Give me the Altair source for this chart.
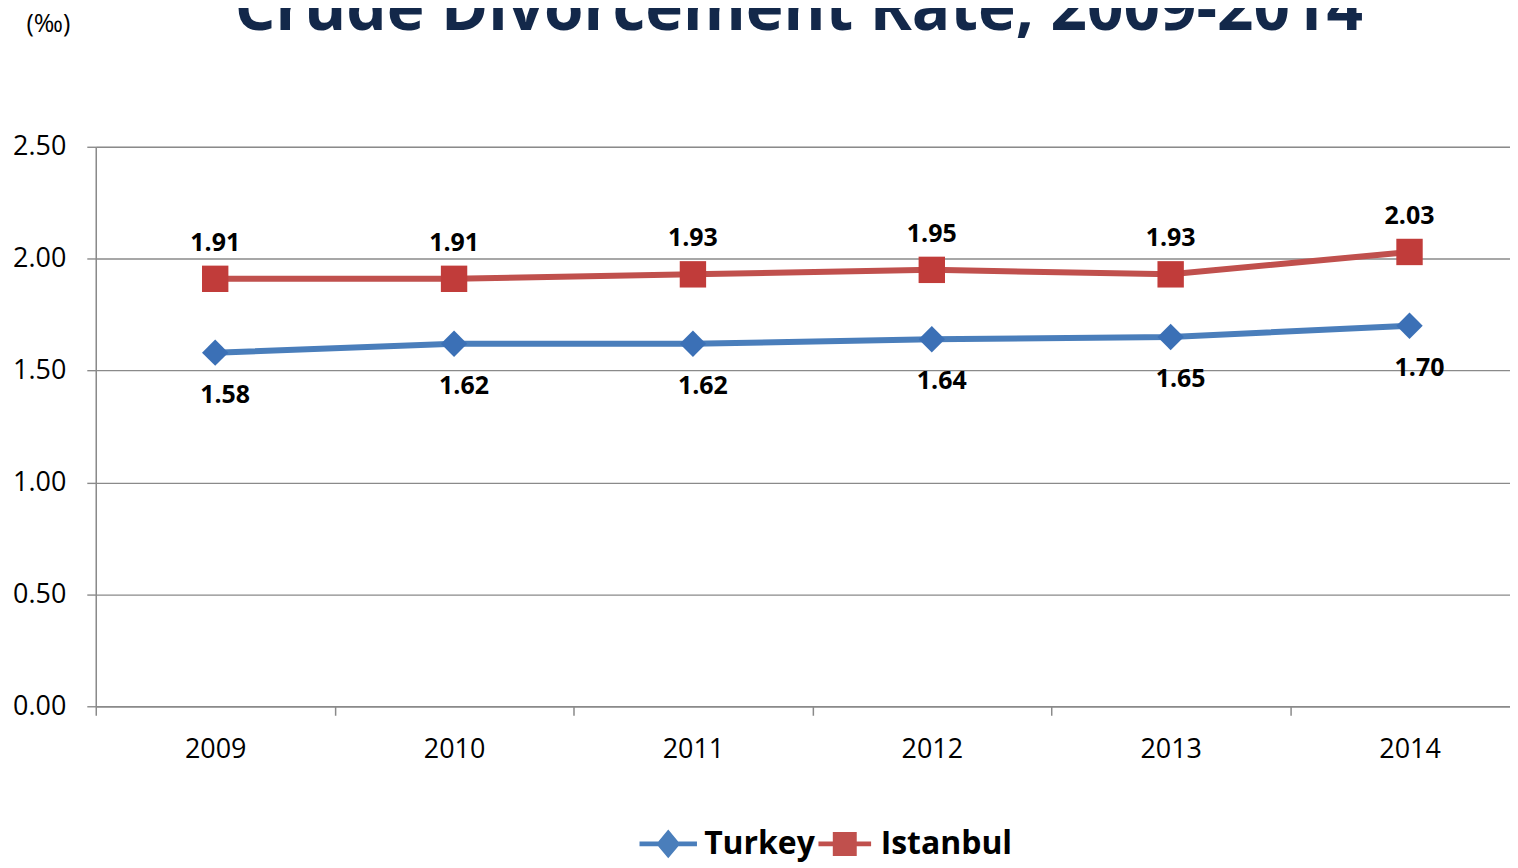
import altair as alt
import pandas as pd

title_text = "Crude Divorcement Rate, 2009-2014"
years = ["2009", "2010", "2011", "2012", "2013", "2014"]
turkey = [1.58, 1.62, 1.62, 1.64, 1.65, 1.70]
istanbul = [1.91, 1.91, 1.93, 1.95, 1.93, 2.03]
series_names = ["Turkey", "Istanbul"]
y_ticks = [0.0, 0.5, 1.0, 1.5, 2.0, 2.5]

rows = []
for name, vals in zip(series_names, [turkey, istanbul]):
    for yr, v in zip(years, vals):
        rows.append({"year": yr, "value": v, "series": name, "label": f"{v:.2f}"})
df = pd.DataFrame(rows)

line_colors = ["#4a7ebb", "#c0504d"]
marker_colors = ["#3b70b6", "#c13c3a"]
FONT = "Open Sans"
GRID = "#8a8a8a"

color_scale = alt.Scale(domain=series_names, range=line_colors)

x_enc = alt.X(
    "year:O",
    scale=alt.Scale(type="band", range=[0, 1437], paddingInner=0, paddingOuter=0),
    axis=alt.Axis(
        title=None, labelAngle=0, tickBand="extent", grid=False,
        domainColor=GRID, domainWidth=1.5, tickColor=GRID, tickWidth=1.5, tickSize=9,
        labelFont=FONT, labelFontSize=27, labelColor="black", labelPadding=21,
    ),
)
y_enc = alt.Y(
    "value:Q",
    scale=alt.Scale(domain=[0, 2.5], nice=False, zero=True),
    axis=alt.Axis(
        values=y_ticks, format=".2f", grid=True, gridColor=GRID, gridWidth=1.4,
        domainColor=GRID, domainWidth=1.5, tickColor=GRID, tickWidth=1.4, tickSize=9,
        labelFont=FONT, labelFontSize=27, labelColor="black", labelPadding=21,
        title="(‰)", titleAngle=0, titleX=-48, titleY=-124, titleAlign="center",
        titleBaseline="middle", titleFont=FONT, titleFontSize=25, titleFontWeight="normal",
        titleColor="black",
    ),
)

base = alt.Chart(df)
is_t = alt.datum.series == "Turkey"
is_i = alt.datum.series == "Istanbul"

line_t = base.transform_filter(is_t).mark_line(strokeWidth=6, color=line_colors[0]).encode(x=x_enc, y=y_enc)
line_i = base.transform_filter(is_i).mark_line(strokeWidth=6, color=line_colors[1]).encode(x=x_enc, y=y_enc)

markers_t = base.transform_filter(is_t).mark_point(
    shape="diamond", filled=True, size=700, opacity=1, color=marker_colors[0]
).encode(x=x_enc, y=y_enc)

markers_i = base.transform_filter(is_i).mark_point(
    shape="square", filled=True, size=700, opacity=1, color=marker_colors[1]
).encode(x=x_enc, y=y_enc)

labels_i = base.transform_filter(is_i).mark_text(
    dy=-36, font=FONT, fontSize=25, fontWeight="bold", color="black"
).encode(x=x_enc, y=y_enc, text="label:N")

labels_t = base.transform_filter(is_t).mark_text(
    dy=42, dx=10, font=FONT, fontSize=25, fontWeight="bold", color="black"
).encode(x=x_enc, y=y_enc, text="label:N")

path_t = "M-2.4,-0.2H2.4V0.2H-2.4Z M0,-1.2L1,0L0,1.2L-1,0Z"
path_i = "M-2.2,-0.2H2.2V0.2H-2.2Z M-1,-1H1V1H-1Z"

legend_props = dict(
    orient="none", legendX=558, legendY=683, direction="horizontal", title=None,
    labelFont=FONT, labelFontSize=32, labelFontWeight="bold", labelColor="black",
    symbolSize=576, symbolStrokeWidth=0, symbolOpacity=1,
    labelOffset=20, columnPadding=2,
)

legend_layer = base.transform_filter("false").mark_point(filled=True, opacity=1).encode(
    x=x_enc, y=y_enc,
    color=alt.Color("series:N", scale=color_scale, legend=alt.Legend(**legend_props)),
    shape=alt.Shape("series:N", scale=alt.Scale(domain=series_names, range=[path_t, path_i]),
                    legend=alt.Legend(**legend_props)),
)

title_layer = alt.Chart(pd.DataFrame({"t": [title_text]})).mark_text(
    font=FONT, fontSize=64, fontWeight="bold", color="#13284a",
    align="center", baseline="alphabetic",
).encode(text="t:N", x=alt.value(705), y=alt.value(-117))

chart = alt.layer(
    line_t, line_i, markers_t, markers_i, labels_i, labels_t, legend_layer, title_layer
).properties(
    width=1418, height=561,
    autosize=alt.AutoSizeParams(type="none"),
    padding={"left": 88, "top": 138, "right": 0, "bottom": 157},
).configure_view(stroke=None).configure(background="white")

chart.save("out.html", embed_options={"renderer": "svg", "actions": False})
